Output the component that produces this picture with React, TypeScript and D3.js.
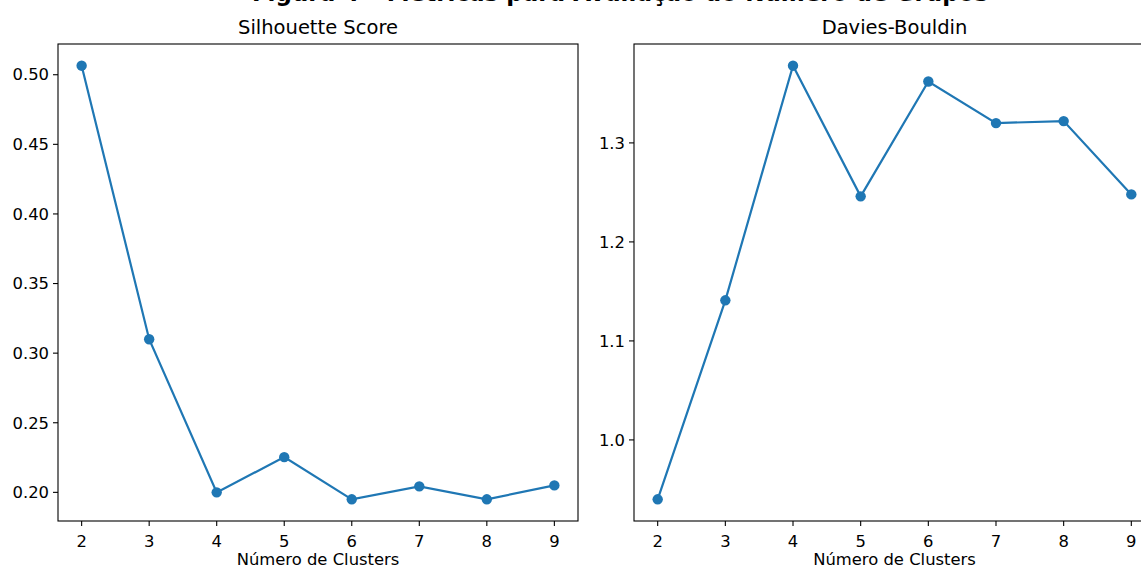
import React from "react";
import * as d3 from "d3";

const clusters = [2, 3, 4, 5, 6, 7, 8, 9];
const silhouette = [0.5065, 0.31, 0.2, 0.2253, 0.195, 0.2043, 0.195, 0.205];
const daviesBouldin = [0.94, 1.141, 1.378, 1.246, 1.362, 1.32, 1.322, 1.248];
const silhouetteTicks = [0.2, 0.25, 0.3, 0.35, 0.4, 0.45, 0.5];
const dbTicks = [1.0, 1.1, 1.2, 1.3];

const W = 1141;
const H = 569;
const FONT = "DejaVu Sans, sans-serif";
const BLUE = "#1f77b4";

type PanelProps = {
  left: number;
  right: number;
  title: string;
  values: number[];
  ticks: number[];
  fmt: (v: number) => string;
};

function Panel({ left, right, title, values, ticks, fmt }: PanelProps) {
  const top = 44;
  const bottom = 521;
  const [x0, x1] = d3.extent(clusters) as [number, number];
  const xm = (x1 - x0) * 0.05;
  const x = d3.scaleLinear().domain([x0 - xm, x1 + xm]).range([left, right]);
  const [y0, y1] = d3.extent(values) as [number, number];
  const ym = (y1 - y0) * 0.05;
  const y = d3.scaleLinear().domain([y0 - ym, y1 + ym]).range([bottom, top]);

  const line = d3
    .line<number>()
    .x((_, i) => x(clusters[i]))
    .y((d) => y(d));

  return (
    <g>
      <text
        x={(left + right) / 2}
        y={top - 10}
        textAnchor="middle"
        fontSize={19.5}
        fontFamily={FONT}
      >
        {title}
      </text>
      <path d={line(values) || ""} fill="none" stroke={BLUE} strokeWidth={2.2} />
      {values.map((v, i) => (
        <circle key={i} cx={x(clusters[i])} cy={y(v)} r={5.2} fill={BLUE} />
      ))}
      <rect
        x={left}
        y={top}
        width={right - left}
        height={bottom - top}
        fill="none"
        stroke="#000"
        strokeWidth={1.1}
      />
      {clusters.map((c) => (
        <g key={c} transform={`translate(${x(c)},${bottom})`}>
          <line y2={5} stroke="#000" strokeWidth={1.1} />
          <text y={26} textAnchor="middle" fontSize={16.4} fontFamily={FONT}>
            {c}
          </text>
        </g>
      ))}
      {ticks.map((t) => (
        <g key={t} transform={`translate(${left},${y(t)})`}>
          <line x2={-5} stroke="#000" strokeWidth={1.1} />
          <text
            x={-9}
            dy="0.35em"
            textAnchor="end"
            fontSize={16.4}
            fontFamily={FONT}
          >
            {fmt(t)}
          </text>
        </g>
      ))}
      <text
        x={(left + right) / 2}
        y={565}
        textAnchor="middle"
        fontSize={16.4}
        fontFamily={FONT}
      >
        Número de Clusters
      </text>
    </g>
  );
}

export default function App() {
  return (
    <svg
      width={W}
      height={H}
      style={{ position: "absolute", left: 0, top: 0, background: "#fff" }}
    >
      <rect width={W} height={H} fill="#fff" />
      <text
        x={620}
        y={1}
        textAnchor="middle"
        fontSize={23}
        fontWeight="bold"
        fontFamily={FONT}
      >
        Figura 4 – Métricas para Avaliação do Número de Grupos
      </text>
      <Panel
        left={58}
        right={578}
        title="Silhouette Score"
        values={silhouette}
        ticks={silhouetteTicks}
        fmt={d3.format(".2f")}
      />
      <Panel
        left={634}
        right={1155}
        title="Davies-Bouldin"
        values={daviesBouldin}
        ticks={dbTicks}
        fmt={d3.format(".1f")}
      />
    </svg>
  );
}
